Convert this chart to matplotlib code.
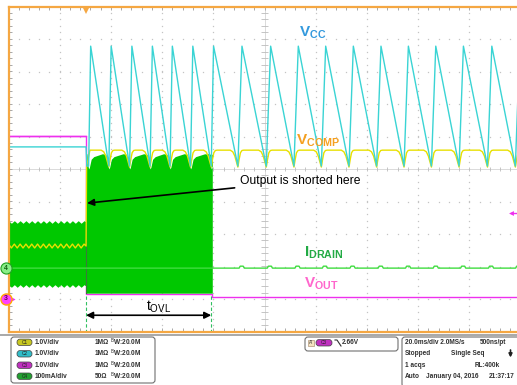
import numpy as np
import matplotlib.pyplot as plt
from matplotlib.patches import FancyBboxPatch

plt.rcParams['font.family'] = ['Liberation Sans', 'DejaVu Sans']
plt.rcParams['mathtext.fontset'] = 'custom'
plt.rcParams['mathtext.rm'] = 'Liberation Sans'
plt.rcParams['mathtext.bf'] = 'Liberation Sans:bold'

# time in ms (20 ms/div), vertical in divisions
t_short = 30.3
t_burst_end = 79.6

# C2: Vcc sawtooth
vcc_pre = 0.68
vcc_peak = 3.78
vcc_valley = 0.09
vcc_peak_t = [32.1, 40.1, 48.2, 56.2, 64.0, 72.0, 80.1, 91.2, 102.4, 113.2,
              123.9, 134.7, 145.5, 156.2, 166.9, 177.7, 188.8, 199.7]
vcc_valley_t = [31.3, 39.2, 47.3, 55.3, 63.1, 71.1, 79.2, 89.6, 100.7, 111.5,
                122.2, 133.0, 143.8, 154.5, 165.2, 176.0, 187.1, 198.0]

# C1: Vcomp
vcomp_pre = -2.37
vcomp_ripple = 0.06
vcomp_ripple_ms = 2.27
vcomp_high = 0.58
vcomp_low = 0.06

# C4: Idrain
idrain_band_top = -1.63
idrain_band_bot = -3.60
idrain_base = -3.05
idrain_burst_bot = -3.82
idrain_burst_top = [0.05, 0.30, 0.38, 0.47, 0.45, 0.15]
idrain_bump = 0.06
idrain_bump_t = [90.5, 101.5, 112.3, 123.0, 133.8, 144.8, 155.5, 166.3, 177.0,
                 187.9, 198.5]

# C3: Vout
vout_pre = 1.02
vout_burst = -3.85
vout_post = -3.95

CYAN = '#3ad4d4'
YELLOW = '#e8e000'
GREEN = '#00c800'
LGREEN = '#40dd40'
MAGENTA = '#ee30ee'
ORANGE = '#f5a742'

fig = plt.figure(figsize=(5.17, 3.85), dpi=100)
ax = fig.add_axes([8.5 / 517, (385 - 331.5) / 385, 512 / 517, 325 / 385])
ax.set_xlim(0, 200)
ax.set_ylim(-5, 5)
ax.set_xticks([])
ax.set_yticks([])
for s in ax.spines.values():
    s.set_visible(False)

# graticule: dotted grid with minor dots
minor_x = np.arange(0, 200.1, 4)
minor_y = np.arange(-5, 5.01, 0.2)
for gy in range(-4, 5):
    if gy == 0:
        continue
    ax.plot(minor_x, np.full_like(minor_x, gy), ls='none', marker='s', ms=0.9,
            mew=0, color='#c4c4c4', zorder=0)
for gx in range(20, 200, 20):
    if gx == 100:
        continue
    ax.plot(np.full_like(minor_y, gx), minor_y, ls='none', marker='s', ms=0.9,
            mew=0, color='#c4c4c4', zorder=0)
ax.axhline(0, color='#d4d4d4', lw=0.6, zorder=0)
ax.axvline(100, color='#d4d4d4', lw=0.6, zorder=0)
ax.vlines(minor_x, -0.07, 0.07, color='#bcbcbc', lw=0.6, zorder=0)
ax.hlines(minor_y, 98.8, 101.2, color='#bcbcbc', lw=0.6, zorder=0)
# border ticks
ax.vlines(minor_x, 4.88, 5, color='#a8a8a8', lw=0.7, zorder=0)
ax.vlines(minor_x, -5, -4.88, color='#a8a8a8', lw=0.7, zorder=0)
ax.hlines(minor_y, 0, 1.2, color='#a8a8a8', lw=0.7, zorder=0)

# C4 Idrain: switching band before the short
tp = np.arange(0, t_short, vcomp_ripple_ms / 2)
zig = np.where(np.arange(len(tp)) % 2 == 0, 1, -1) * 0.04
ax.fill_between(np.append(tp, t_short), np.append(idrain_band_top + zig, idrain_band_top),
                np.append(idrain_band_bot + zig, idrain_band_bot), color=GREEN, lw=0, zorder=2)

# burst during the overload interval: rounded top between Vcc valleys
bx = [t_short, t_short + 0.3]
by = [idrain_burst_top[3], idrain_burst_top[3]]
seg_v = [v for v in vcc_valley_t if t_short < v < t_burst_end]
bx += [seg_v[0] - 0.4]
by += [idrain_burst_top[5]]
for i, v in enumerate(seg_v):
    nxt = seg_v[i + 1] if i + 1 < len(seg_v) else t_burst_end + 0.6
    bx += [v, v + 0.3, v + 1.0, v + 2.0, nxt - 2.5, nxt - 1.2, nxt - 0.4]
    by += [0.0] + idrain_burst_top
bx = np.array(bx)
by = np.array(by)
keep = bx <= t_burst_end
bx = np.append(bx[keep], t_burst_end)
by = np.append(by[keep], by[keep][-1])
ax.fill_between(bx, by, idrain_burst_bot, color=GREEN, lw=0, zorder=2)
ax.plot([t_short, t_short], [idrain_band_top, idrain_burst_bot], color='#3a7a3a', lw=0.8, zorder=2)

# Idrain trace after the burst
ix = [0, t_burst_end, t_burst_end]
iy = [idrain_base, idrain_base, idrain_base]
for b in idrain_bump_t:
    ix += [b - 0.4, b, b + 1.2, b + 1.6]
    iy += [idrain_base, idrain_base + idrain_bump, idrain_base + idrain_bump, idrain_base]
ix.append(200)
iy.append(idrain_base)
ax.plot(ix, iy, color=LGREEN, lw=1.0, zorder=3)

# C3 Vout
ax.plot([0, t_short, t_short, t_burst_end, t_burst_end, 200],
        [vout_pre, vout_pre, vout_burst, vout_burst, vout_post, vout_post],
        color=MAGENTA, lw=1.0, zorder=1.5)
ax.plot([0, t_short], [vout_pre, vout_pre], color=MAGENTA, lw=1.0, zorder=3)

# C1 Vcomp
cx = list(tp) + [t_short, t_short + 0.2]
cy = list(vcomp_pre + np.where(np.arange(len(tp)) % 2 == 0, 1, -1) * vcomp_ripple) + [vcomp_pre, vcomp_low]
tmpl_dt = [-3.0, -2.0, -1.2, -0.5, 0.0, 0.5, 1.0, 1.6, 2.3]
tmpl_y = [vcomp_high, 0.53, 0.40, 0.20, vcomp_low, 0.30, 0.50, 0.57, vcomp_high]
cx += [t_short + 1.5]
cy += [vcomp_high]
for v in vcc_valley_t[1:]:
    cx += [v + d for d in tmpl_dt]
    cy += tmpl_y
cx.append(200)
cy.append(vcomp_high)
ax.plot(cx, cy, color=YELLOW, lw=1.0, zorder=4)

# C2 Vcc
vx = [0, t_short, t_short + 0.3]
vy = [vcc_pre, vcc_pre, vcc_valley]
for v, p in zip(vcc_valley_t, vcc_peak_t):
    vx += [v, p]
    vy += [vcc_valley, vcc_peak]
ax.plot(vx, vy, color=CYAN, lw=1.0, zorder=5)

# border
ax.plot([0, 200], [5, 5], color=ORANGE, lw=1.6, clip_on=False, zorder=6)
ax.plot([0, 200], [-5, -5], color=ORANGE, lw=1.6, clip_on=False, zorder=6)
ax.plot([0, 0], [-5, 5], color=ORANGE, lw=1.6, clip_on=False, zorder=6)
ax.plot(t_short, 4.9, marker='v', ms=6, color=ORANGE, mew=0, clip_on=False, zorder=7)

# channel ground markers
ax.plot(-1.0, idrain_base, marker='o', ms=8, color='#88ee88', mec='#20a020', mew=0.8,
        clip_on=False, zorder=7)
ax.text(-1.0, idrain_base, '4', fontsize=5, color='#106010', ha='center', va='center',
        fontweight='bold', zorder=8)
ax.plot([-1.0, 1.8], [-4.0, -4.0], color=MAGENTA, lw=1.0, clip_on=False, zorder=7)
ax.plot(1.8, -4.0, marker='>', ms=3, color=MAGENTA, mew=0, clip_on=False, zorder=7)
ax.plot(-1.0, -4.0, marker='o', ms=8, color='#ff40ff', mec='#ffaa00', mew=1.0,
        clip_on=False, zorder=7)
ax.text(-1.0, -4.0, '3', fontsize=5, color='#600060', ha='center', va='center',
        fontweight='bold', zorder=8)
ax.plot([196.2, 198.2], [-1.35, -1.35], color=MAGENTA, lw=1.0, zorder=7)
ax.plot(196.2, -1.35, marker='<', ms=3.5, color=MAGENTA, mew=0, zorder=7)

# cursors and overload time
for c in (t_short, 79.2):
    ax.plot([c, c], [-3.9, -5], color='#30c060', lw=0.8, ls=(0, (3, 2)), zorder=3)
ax.annotate('', xy=(t_short, -4.5), xytext=(79.2, -4.5),
            arrowprops=dict(arrowstyle='<|-|>', color='black', lw=1.2,
                            mutation_scale=10, shrinkA=0, shrinkB=0), zorder=8)
ax.text(58.5, -4.25, r'$\mathrm{t}_{\mathrm{OVL}}$', fontsize=10, ha='center', va='center',
        color='black', zorder=8)

# short-circuit annotation
ax.annotate('Output is shorted here', xy=(t_short + 0.4, -1.05), xytext=(90.5, -0.37),
            fontsize=8.7, va='center', ha='left',
            arrowprops=dict(arrowstyle='-|>', color='black', lw=1.2,
                            mutation_scale=10, shrinkA=2, shrinkB=0), zorder=8)

# trace labels
ax.text(113.5, 4.2, r'$\mathbf{V_{CC}}$', fontsize=11, color='#3399dd', ha='left',
        va='center', zorder=8)
ax.text(112.5, 0.86, r'$\mathbf{V_{COMP}}$', fontsize=11, color='#f5a020', ha='left',
        va='center', zorder=8)
ax.text(115.5, -2.58, r'$\mathbf{I_{DRAIN}}$', fontsize=11, color='#22aa44', ha='left',
        va='center', zorder=8)
ax.text(115.5, -3.52, r'$\mathbf{V_{OUT}}$', fontsize=11, color='#ff66cc', ha='left',
        va='center', zorder=8)

# status panel below the graticule
pan = fig.add_axes([0, 0, 1, 1], facecolor='none')
pan.set_xlim(0, 517)
pan.set_ylim(385, 0)
pan.axis('off')
pan.plot([0, 517], [335, 335], color='#9a9a9a', lw=1.2)

pan.add_patch(FancyBboxPatch((11, 337), 144, 46, boxstyle='round,pad=0,rounding_size=3',
                             fc='white', ec='#707070', lw=0.8))
pan.add_patch(FancyBboxPatch((305, 337), 93, 14, boxstyle='round,pad=0,rounding_size=3',
                             fc='white', ec='#707070', lw=0.8))
pan.add_patch(FancyBboxPatch((402, 337), 130, 50, boxstyle='round,pad=0,rounding_size=3',
                             fc='white', ec='#707070', lw=0.8))

chan_names = ['C1', 'C2', 'C3', 'C4']
chan_colors = ['#c8c820', '#30bcc8', '#c030c0', '#22a030']
chan_scale = ['1.0V/div', '1.0V/div', '1.0V/div', '100mA/div']
chan_imp = ['1M\u03a9', '1M\u03a9', '1M\u03a9', '50\u03a9']
row_y = [342.3, 353.8, 365.2, 376.2]
fs = 4.7
for ry, nm, col, sc, imp in zip(row_y, chan_names, chan_colors, chan_scale, chan_imp):
    pan.add_patch(FancyBboxPatch((17, ry - 3.2), 15, 6.4, boxstyle='round,pad=0,rounding_size=3',
                                 fc=col, ec='#404040', lw=0.5))
    pan.text(24.5, ry, nm, fontsize=3.4, ha='center', va='center', color='#202020')
    pan.text(35, ry, sc, fontsize=fs, fontweight='bold', va='center', color='#303030')
    pan.text(95, ry, imp, fontsize=fs, fontweight='bold', va='center', color='#303030')
    pan.text(110, ry, r'$^{\mathrm{B}}$W:20.0M', fontsize=fs, fontweight='bold', va='center',
             color='#303030')

pan.add_patch(plt.Rectangle((307.5, 340), 6.5, 5.5, fc='#f3e2c0', ec='#a08060', lw=0.4))
pan.text(310.7, 342.8, "A'", fontsize=3.4, ha='center', va='center', color='#303030')
pan.add_patch(FancyBboxPatch((316, 339.6), 16, 6.4, boxstyle='round,pad=0,rounding_size=3',
                             fc='#c030c0', ec='#404040', lw=0.5))
pan.text(324, 342.8, 'C3', fontsize=3.4, ha='center', va='center', color='#202020')
pan.plot([335, 337, 341], [340, 340, 346], color='#303030', lw=0.8)
pan.text(342, 342.8, '2.66V', fontsize=fs, fontweight='bold', va='center', color='#303030')

status_rows = [
    [('20.0ms/div 2.0MS/s', 405), ('500ns/pt', 480)],
    [('Stopped', 405), ('Single Seq', 451)],
    [('1 acqs', 405), ('RL:400k', 475)],
    [('Auto', 405), ('January 04, 2016', 425.5), ('21:37:17', 488.5)],
]
for ry, row in zip(row_y, status_rows):
    for txt, x in row:
        pan.text(x, ry, txt, fontsize=fs, fontweight='bold', va='center', color='#303030')
pan.annotate('', xy=(510.5, 357.5), xytext=(510.5, 350),
             arrowprops=dict(arrowstyle='-|>', color='#202020', lw=1.2, mutation_scale=5,
                             shrinkA=0, shrinkB=0))

fig.savefig('out.png', dpi=100)
